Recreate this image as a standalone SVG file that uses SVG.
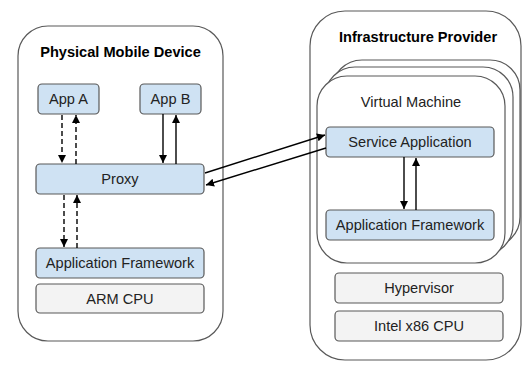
<svg xmlns="http://www.w3.org/2000/svg" width="522" height="367" viewBox="0 0 522 367">
  <defs>
    <marker id="head" markerUnits="userSpaceOnUse" markerWidth="10" markerHeight="10" refX="8" refY="4" orient="auto">
      <path d="M0,0 L8,4 L0,8 Z" fill="#000"/>
    </marker>
    <style>
      .frame { fill: #fff; stroke: #595959; stroke-width: 1.2; }
      .blue { fill: #cfe2f3; stroke: #595959; stroke-width: 1.2; }
      .grey { fill: #f3f3f3; stroke: #595959; stroke-width: 1.2; }
      text { font-family: "Liberation Sans", Arial, sans-serif; font-size: 14.6px; fill: #222; text-anchor: middle; }
      .title { font-weight: bold; fill: #000; }
      .link { stroke: #000; stroke-width: 1.4; fill: none; marker-end: url(#head); }
      .dash { stroke-dasharray: 5 3; }
    </style>
  </defs>

  <rect width="522" height="367" fill="#fff"/>

  <!-- device side -->
  <g id="device">
    <rect class="frame" x="18" y="26" width="205" height="315" rx="30"/>
    <text class="title" x="120.5" y="57">Physical Mobile Device</text>
  </g>
  <g id="app-a">
    <rect class="blue" x="38" y="84" width="61" height="30" rx="4"/>
    <text x="68.5" y="104">App A</text>
  </g>
  <g id="app-b">
    <rect class="blue" x="140" y="84" width="61" height="30" rx="4"/>
    <text x="170.5" y="104">App B</text>
  </g>
  <g id="proxy">
    <rect class="blue" x="36" y="164" width="168" height="30" rx="4"/>
    <text x="120" y="184">Proxy</text>
  </g>
  <g id="device-framework">
    <rect class="blue" x="36" y="248" width="168" height="30" rx="4"/>
    <text x="120" y="268">Application Framework</text>
  </g>
  <g id="arm-cpu">
    <rect class="grey" x="36" y="284" width="168" height="29" rx="4"/>
    <text x="120" y="303.5">ARM CPU</text>
  </g>

  <!-- provider side -->
  <g id="provider">
    <rect class="frame" x="310" y="11" width="211" height="349" rx="35"/>
    <text class="title" x="418" y="42">Infrastructure Provider</text>
  </g>
  <g id="vm-stack">
    <rect class="frame" x="332" y="60" width="188" height="187" rx="30"/>
    <rect class="frame" x="325" y="67" width="188" height="188" rx="30"/>
  </g>
  <g id="virtual-machine">
    <rect class="frame" x="317" y="76" width="188" height="187" rx="30"/>
    <text x="411" y="107">Virtual Machine</text>
  </g>
  <g id="service-application">
    <rect class="blue" x="326" y="127" width="168" height="30" rx="4"/>
    <text x="410" y="147">Service Application</text>
  </g>
  <g id="vm-framework">
    <rect class="blue" x="326" y="210" width="168" height="30" rx="4"/>
    <text x="410" y="230">Application Framework</text>
  </g>
  <g id="hypervisor">
    <rect class="grey" x="335" y="273" width="168" height="30" rx="4"/>
    <text x="419" y="293">Hypervisor</text>
  </g>
  <g id="intel-cpu">
    <rect class="grey" x="335" y="311" width="168" height="30" rx="4"/>
    <text x="419" y="331">Intel x86 CPU</text>
  </g>

  <!-- connectors -->
  <g id="connectors">
    <line class="link dash" x1="62" y1="115" x2="62" y2="163"/>
    <line class="link dash" x1="76" y1="164" x2="76" y2="115"/>
    <line class="link" x1="163" y1="114" x2="163" y2="163"/>
    <line class="link" x1="176" y1="164" x2="176" y2="115"/>
    <line class="link dash" x1="64" y1="195" x2="64" y2="247"/>
    <line class="link dash" x1="77" y1="248" x2="77" y2="195"/>
    <line class="link" x1="205" y1="173" x2="325" y2="135"/>
    <line class="link" x1="326" y1="148" x2="206" y2="185"/>
    <line class="link" x1="404" y1="157" x2="404" y2="209"/>
    <line class="link" x1="416" y1="210" x2="416" y2="158"/>
  </g>
</svg>
